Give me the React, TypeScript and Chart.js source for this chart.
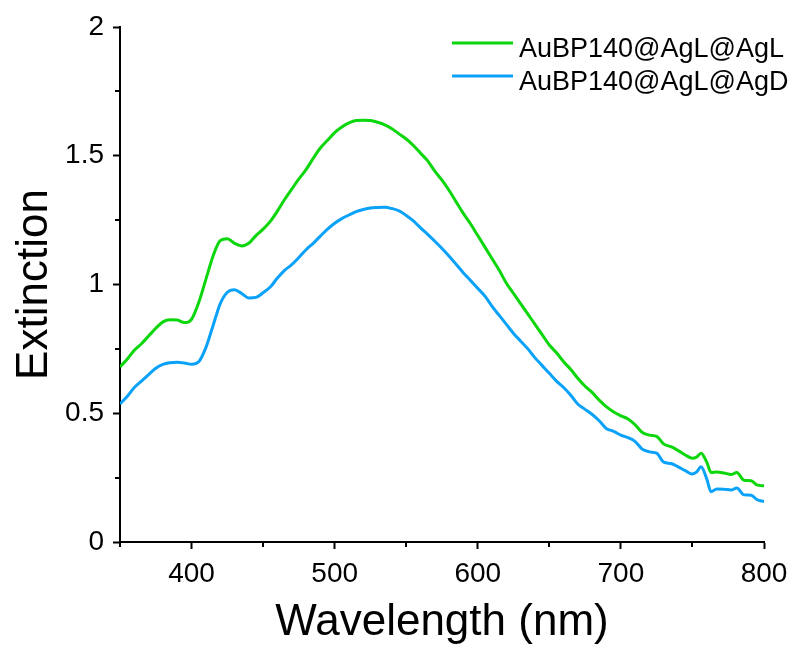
import React, { useEffect, useRef } from "react";
import { Chart, registerables } from "chart.js";

Chart.register(...registerables);

const wavelengths = [
  350, 355, 360, 365, 370, 375, 380, 385, 390, 395, 400, 405, 410, 415, 420, 425, 430, 435, 440, 445,
  450, 455, 460, 465, 470, 475, 480, 485, 490, 495, 500, 505, 510, 515, 520, 525, 530, 535, 540, 545,
  550, 555, 560, 565, 570, 575, 580, 585, 590, 595, 600, 605, 610, 615, 620, 625, 630, 635, 640, 645,
  650, 655, 660, 665, 670, 675, 680, 685, 690, 695, 700, 705, 710, 715, 720, 725, 730, 735, 740, 745,
  750, 753, 756, 760, 763, 767, 772, 777, 781, 786, 791, 795, 800,
];

const extinctionAgL = [
  0.68, 0.71, 0.745, 0.77, 0.8, 0.83, 0.855, 0.863, 0.862, 0.852, 0.865, 0.93, 1.02, 1.11, 1.17, 1.178, 1.16, 1.15, 1.16, 1.19,
  1.215, 1.245, 1.285, 1.33, 1.37, 1.41, 1.446, 1.49, 1.53, 1.56, 1.59, 1.612, 1.628, 1.637, 1.638, 1.637, 1.63, 1.62, 1.605, 1.585,
  1.565, 1.54, 1.51, 1.48, 1.44, 1.405, 1.365, 1.32, 1.275, 1.235, 1.19, 1.145, 1.1, 1.055, 1.005, 0.965, 0.925, 0.885, 0.845, 0.805,
  0.765, 0.735, 0.7, 0.67, 0.635, 0.605, 0.58, 0.55, 0.525, 0.505, 0.49, 0.478, 0.455, 0.425, 0.415, 0.41, 0.38, 0.37, 0.355, 0.338,
  0.325, 0.33, 0.345, 0.31, 0.27, 0.272, 0.268, 0.262, 0.27, 0.24, 0.238, 0.222, 0.218,
];

const extinctionAgD = [
  0.536, 0.565, 0.6, 0.625, 0.65, 0.675, 0.69, 0.696, 0.698, 0.695, 0.69, 0.7, 0.755, 0.84, 0.925, 0.97, 0.98, 0.965, 0.948, 0.95,
  0.968, 0.99, 1.025, 1.055, 1.077, 1.105, 1.135, 1.16, 1.188, 1.215, 1.238, 1.256, 1.27, 1.283, 1.291, 1.297, 1.299, 1.3, 1.295, 1.286,
  1.268, 1.247, 1.22, 1.195, 1.168, 1.14, 1.11, 1.078, 1.045, 1.015, 0.985, 0.955, 0.915, 0.88, 0.845, 0.81, 0.78, 0.75, 0.715, 0.685,
  0.655, 0.625, 0.6, 0.57, 0.535, 0.515, 0.495, 0.47, 0.44, 0.43, 0.415, 0.405, 0.39, 0.36, 0.35, 0.345, 0.31, 0.305, 0.292, 0.277,
  0.264, 0.272, 0.292, 0.245, 0.195, 0.206, 0.205, 0.202, 0.21, 0.183, 0.182, 0.165, 0.157,
];

const seriesLabels = ["AuBP140@AgL@AgL", "AuBP140@AgL@AgD"];
const seriesColors = ["#0cd60c", "#0aa2f8"];

const xMajorTicks = [400, 500, 600, 700, 800];
const xMinorTicks = [350, 450, 550, 650, 750];
const yMajorTicks = [0, 0.5, 1, 1.5, 2];
const yMinorTicks = [0.25, 0.75, 1.25, 1.75];

const xTitle = "Wavelength (nm)";
const yTitle = "Extinction";

const FONT = "'Liberation Sans', Arial, Helvetica, sans-serif";

const extrasPlugin = {
  id: "extras",
  afterDraw(chart: any) {
    const { ctx, chartArea, scales } = chart;
    const xs = scales.x;
    const ys = scales.y;
    ctx.save();
    ctx.strokeStyle = "#000";
    ctx.lineWidth = 2;
    ctx.beginPath();
    for (const v of xMinorTicks) {
      const px = Math.round(xs.getPixelForValue(v));
      ctx.moveTo(px, chartArea.bottom);
      ctx.lineTo(px, chartArea.bottom + 5);
    }
    for (const v of yMinorTicks) {
      const py = Math.round(ys.getPixelForValue(v));
      ctx.moveTo(chartArea.left - 5, py);
      ctx.lineTo(chartArea.left, py);
    }
    ctx.stroke();

    // legend
    const x0 = chartArea.right - 312;
    const lineLen = 61;
    const rows = [43, 76];
    ctx.font = `27px ${FONT}`;
    ctx.textAlign = "left";
    ctx.textBaseline = "alphabetic";
    chart.data.datasets.forEach((ds: any, i: number) => {
      const y = rows[i];
      ctx.strokeStyle = ds.borderColor;
      ctx.lineWidth = 3;
      ctx.beginPath();
      ctx.moveTo(x0, y);
      ctx.lineTo(x0 + lineLen, y);
      ctx.stroke();
      ctx.fillStyle = "#000";
      ctx.fillText(ds.label, x0 + lineLen + 6, y + 14);
    });
    ctx.restore();
  },
};

export default function App() {
  const canvasRef = useRef<HTMLCanvasElement | null>(null);

  useEffect(() => {
    const canvas = canvasRef.current;
    if (!canvas) return;
    const series = [extinctionAgL, extinctionAgD];
    const chart = new Chart(canvas, {
      type: "line",
      data: {
        datasets: series.map((vals, i) => ({
          label: seriesLabels[i],
          data: wavelengths.map((w, j) => ({ x: w, y: vals[j] })),
          borderColor: seriesColors[i],
          backgroundColor: seriesColors[i],
          borderWidth: 3,
          pointRadius: 0,
          cubicInterpolationMode: "monotone" as const,
          fill: false,
        })),
      },
      options: {
        responsive: false,
        animation: false,
        events: [],
        layout: { padding: { top: 27, right: 29, left: 0, bottom: 0 } },
        plugins: {
          legend: { display: false },
          tooltip: { enabled: false },
        },
        scales: {
          x: {
            type: "linear",
            min: 350,
            max: 800,
            afterBuildTicks: (s: any) => {
              s.ticks = xMajorTicks.map((v) => ({ value: v }));
            },
            afterFit: (s: any) => {
              s.height = 110;
              s.paddingLeft = 0;
              s.paddingRight = 0;
            },
            ticks: {
              color: "#000",
              font: { size: 28, family: FONT },
              padding: 8,
              maxRotation: 0,
              autoSkip: false,
              callback: (v: any) => String(v),
            },
            grid: {
              drawOnChartArea: false,
              drawTicks: true,
              tickLength: 7,
              tickColor: "#000",
              tickWidth: 2,
            },
            border: { display: true, color: "#000", width: 2 },
            title: {
              display: true,
              text: xTitle,
              color: "#000",
              font: { size: 44, family: FONT },
              padding: { top: 0, bottom: 3 },
            },
          },
          y: {
            type: "linear",
            min: 0,
            max: 2,
            afterBuildTicks: (s: any) => {
              s.ticks = yMajorTicks.map((v) => ({ value: v }));
            },
            afterFit: (s: any) => {
              s.width = 120;
              s.paddingTop = 0;
              s.paddingBottom = 0;
            },
            ticks: {
              color: "#000",
              font: { size: 28, family: FONT },
              padding: 9,
              autoSkip: false,
              callback: (v: any) => String(v),
            },
            grid: {
              drawOnChartArea: false,
              drawTicks: true,
              tickLength: 7,
              tickColor: "#000",
              tickWidth: 2,
            },
            border: { display: true, color: "#000", width: 2 },
            title: {
              display: true,
              text: yTitle,
              color: "#000",
              font: { size: 44, family: FONT },
              padding: { top: 8, bottom: 0 },
            },
          },
        },
      },
      plugins: [extrasPlugin],
    });
    return () => chart.destroy();
  }, []);

  return (
    <div style={{ position: "fixed", left: 0, top: 0, width: 793, height: 652, background: "#fff" }}>
      <canvas ref={canvasRef} width={793} height={652} style={{ display: "block" }} />
    </div>
  );
}
